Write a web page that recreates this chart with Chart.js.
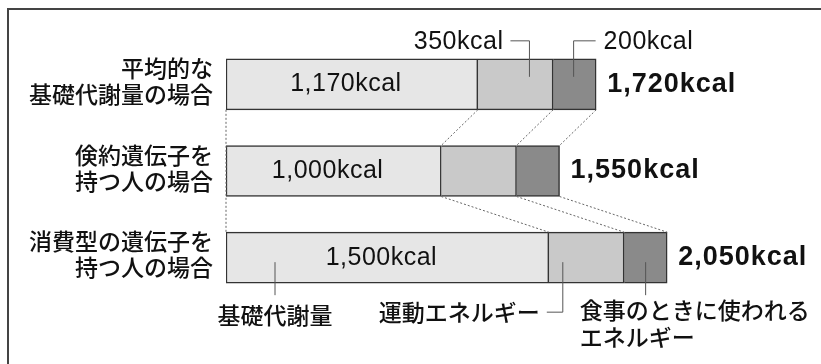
<!DOCTYPE html>
<html>
<head>
<meta charset="utf-8">
<script src="https://cdn.jsdelivr.net/npm/chart.js@4"></script>
<style>
  html, body { margin: 0; padding: 0; background: #fff; }
  #wrap { width: 821px; height: 364px; position: relative; }
</style>
</head>
<body>
<div id="wrap"><canvas id="chart"></canvas></div>
<script>
// data
const categories = [
  ['平均的な', '基礎代謝量の場合'],
  ['倹約遺伝子を', '持つ人の場合'],
  ['消費型の遺伝子を', '持つ人の場合']
];
const seriesNames = ['基礎代謝量', '運動エネルギー', '食事のときに使われるエネルギー'];
const basal = [1170, 1000, 1500];
const exercise = [350, 350, 350];
const meal = [200, 200, 200];
const totals = basal.map((v, i) => v + exercise[i] + meal[i]);

const JP = '"Noto Sans CJK JP", sans-serif';
const EN = '"Liberation Sans", Arial, sans-serif';
const fmt = v => v.toLocaleString('en-US') + 'kcal';

const annotate = {
  id: 'annotate',
  beforeDraw(chart) {
    // open frame (top and left edge)
    const ctx = chart.ctx;
    ctx.save();
    ctx.strokeStyle = '#444';
    ctx.lineWidth = 2;
    ctx.beginPath();
    ctx.moveTo(8, 364);
    ctx.lineTo(8, 9);
    ctx.lineTo(821, 9);
    ctx.stroke();
    ctx.restore();
  },
  afterDatasetsDraw(chart) {
    const ctx = chart.ctx;
    const rows = categories.map((c, j) => {
      const b = [0, 1, 2].map(d => chart.getDatasetMeta(d).data[j].getProps(['x', 'y', 'base', 'height'], true));
      return {
        xs: [b[0].base, b[0].x, b[1].x, b[2].x],
        y: b[0].y,
        top: b[0].y - b[0].height / 2,
        bottom: b[0].y + b[0].height / 2
      };
    });

    ctx.save();
    // dotted connectors between bars
    ctx.strokeStyle = '#666';
    ctx.lineWidth = 1;
    ctx.setLineDash([2, 2]);
    ctx.beginPath();
    ctx.moveTo(rows[0].xs[0], rows[0].bottom);
    ctx.lineTo(rows[2].xs[0], rows[2].top);
    for (let j = 0; j < 2; j++) {
      for (let k = 1; k < 4; k++) {
        ctx.moveTo(rows[j].xs[k], rows[j].bottom);
        ctx.lineTo(rows[j + 1].xs[k], rows[j + 1].top);
      }
    }
    ctx.stroke();
    ctx.setLineDash([]);

    ctx.fillStyle = '#111';
    ctx.textBaseline = 'middle';

    // category labels
    ctx.font = '500 23px ' + JP;
    ctx.textAlign = 'right';
    rows.forEach((r, j) => {
      ctx.fillText(categories[j][0], chart.chartArea.left - 13, r.y - 16);
      ctx.fillText(categories[j][1], chart.chartArea.left - 13, r.y + 10);
    });

    // values inside the basal segment and totals
    rows.forEach((r, j) => {
      ctx.letterSpacing = '0.5px';
      ctx.font = '25px ' + EN;
      ctx.textAlign = 'center';
      ctx.fillText(fmt(basal[j]), (r.xs[0] + r.xs[1]) / 2 - 6, r.y);
      ctx.letterSpacing = '1px';
      ctx.font = 'bold 27px ' + EN;
      ctx.textAlign = 'left';
      ctx.fillText(fmt(totals[j]), r.xs[3] + 11, r.y);
    });

    // top callouts on first bar
    ctx.strokeStyle = '#555';
    ctx.lineWidth = 1;
    const r0 = rows[0];
    const ly = r0.top - 18;
    const ex = (r0.xs[1] + r0.xs[2]) / 2 + 14;
    const mx = (r0.xs[2] + r0.xs[3]) / 2 - 1;
    ctx.beginPath();
    ctx.moveTo(ex - 19, ly); ctx.lineTo(ex, ly); ctx.lineTo(ex, r0.top + 18);
    ctx.moveTo(mx + 22, ly); ctx.lineTo(mx, ly); ctx.lineTo(mx, r0.top + 18);
    ctx.stroke();
    ctx.letterSpacing = '0.5px';
    ctx.font = '25px ' + EN;
    ctx.textAlign = 'right';
    ctx.fillText(fmt(exercise[0]), ex - 26, ly + 1);
    ctx.textAlign = 'left';
    ctx.fillText(fmt(meal[0]), mx + 30, ly + 1);
    ctx.letterSpacing = '0px';

    // bottom legend callouts on last bar
    const r2 = rows[2];
    const bx = r2.xs[0] + 49;
    const ex2 = r2.xs[1] + 14;
    const mx2 = (r2.xs[2] + r2.xs[3]) / 2;
    const y0 = r2.bottom - 21;
    ctx.beginPath();
    ctx.moveTo(bx, y0); ctx.lineTo(bx, r2.bottom + 12);
    ctx.moveTo(ex2, y0); ctx.lineTo(ex2, r2.bottom + 29); ctx.lineTo(ex2 - 16, r2.bottom + 29);
    ctx.moveTo(mx2, y0); ctx.lineTo(mx2, r2.bottom + 12);
    ctx.stroke();
    ctx.font = '500 23px ' + JP;
    ctx.textAlign = 'center';
    ctx.fillText(seriesNames[0], bx, r2.bottom + 32);
    ctx.textAlign = 'right';
    ctx.fillText(seriesNames[1], ex2 - 23, r2.bottom + 29);
    ctx.textAlign = 'left';
    ctx.fillText(seriesNames[2].slice(0, 10), mx2 - 66, r2.bottom + 27);
    ctx.fillText(seriesNames[2].slice(10), mx2 - 66, r2.bottom + 54);
    ctx.restore();
  }
};

new Chart(document.getElementById('chart'), {
  type: 'bar',
  data: {
    labels: categories,
    datasets: [
      { label: seriesNames[0], data: basal, backgroundColor: '#e6e6e6', borderSkipped: false },
      { label: seriesNames[1], data: exercise, backgroundColor: '#c9c9c9', borderSkipped: 'left' },
      { label: seriesNames[2], data: meal, backgroundColor: '#8a8a8a', borderSkipped: 'left' }
    ]
  },
  options: {
    indexAxis: 'y',
    responsive: true,
    maintainAspectRatio: false,
    animation: false,
    devicePixelRatio: 1,
    layout: { padding: { left: 226, right: 57, top: 41, bottom: 63 } },
    datasets: {
      bar: { barThickness: 51, borderColor: '#333', borderWidth: 1.5 }
    },
    scales: {
      x: { type: 'linear', min: 0, max: 2500, stacked: true, display: false },
      y: { stacked: true, display: false }
    },
    plugins: {
      legend: { display: false },
      tooltip: { enabled: false }
    }
  },
  plugins: [annotate]
});
</script>
</body>
</html>
